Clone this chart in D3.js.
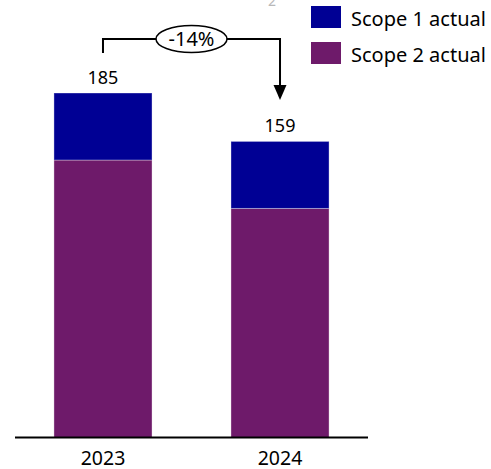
<!DOCTYPE html>
<html>
<head>
<meta charset="utf-8">
<script src="https://cdn.jsdelivr.net/npm/d3@7"></script>
<style>
  html, body { margin: 0; padding: 0; background: #fff; }
  svg { display: block; font-family: "Segoe UI", "Noto Sans", "Open Sans", sans-serif; }
</style>
</head>
<body>
<svg id="chart" width="491" height="469"></svg>
<script>
// Emissions by year (tCO2e)
const years = ["2023", "2024"];
const scope1 = [36, 36];
const scope2 = [149, 123];
const totals = [185, 159];
const seriesNames = ["Scope 1 actual", "Scope 2 actual"];
const seriesColors = ["#000094", "#6e1a6a"];
const changeLabel = "-14%";

const svg = d3.select("#chart");
const baseY = 437.5;

const x = d3.scaleBand()
  .domain(years)
  .range([15, 368])
  .paddingInner(0.446)
  .paddingOuter(0.22);

const y = d3.scaleLinear()
  .domain([0, 185])
  .range([baseY, 93]);

// Stack scope 2 at the bottom, scope 1 on top
const rows = years.map((yr, i) => ({ year: yr, s2: scope2[i], s1: scope1[i] }));
const stack = d3.stack().keys(["s2", "s1"])(rows);
const colorByKey = { s1: seriesColors[0], s2: seriesColors[1] };

svg.append("g").selectAll("g")
  .data(stack)
  .join("g")
  .attr("fill", d => colorByKey[d.key])
  .selectAll("rect")
  .data(d => d)
  .join("rect")
  .attr("x", d => x(d.data.year))
  .attr("width", x.bandwidth())
  .attr("y", d => y(d[1]))
  .attr("height", d => y(d[0]) - y(d[1]))
  .attr("stroke", "#fff")
  .attr("stroke-opacity", 0.35)
  .attr("stroke-width", 1);

// Total labels
svg.append("g").selectAll("text")
  .data(years)
  .join("text")
  .attr("x", d => x(d) + x.bandwidth() / 2)
  .attr("y", (d, i) => y(totals[i]) - 9.5)
  .attr("text-anchor", "middle")
  .attr("font-size", 18)
  .attr("fill", "#000")
  .text((d, i) => totals[i]);

// Baseline axis
const axis = d3.axisBottom(x).tickSize(0).tickPadding(14);
const gAxis = svg.append("g")
  .attr("transform", `translate(0,${baseY})`)
  .call(axis);
gAxis.select(".domain").attr("stroke", "#000").attr("stroke-width", 2)
  .attr("d", "M15,0H368");
gAxis.selectAll("text")
  .attr("font-size", 19.5)
  .attr("font-family", "'Segoe UI', 'Noto Sans', 'Open Sans', sans-serif")
  .attr("fill", "#000");

// Year-over-year change bracket
const cx0 = x(years[0]) + x.bandwidth() / 2;
const cx1 = x(years[1]) + x.bandwidth() / 2;
const bracketY = 39;
const tipY = 100;
svg.append("path")
  .attr("d", `M${cx0},${y(totals[0]) - 40}V${bracketY}H${cx1}V${tipY - 14}`)
  .attr("fill", "none")
  .attr("stroke", "#000")
  .attr("stroke-width", 2);
svg.append("path")
  .attr("d", `M${cx1 - 6.5},${tipY - 15}L${cx1 + 6.5},${tipY - 15}L${cx1},${tipY}Z`)
  .attr("fill", "#000");

const ellCx = 191.5;
svg.append("ellipse")
  .attr("cx", ellCx)
  .attr("cy", bracketY)
  .attr("rx", 35.5)
  .attr("ry", 13.5)
  .attr("fill", "#fff")
  .attr("stroke", "#000")
  .attr("stroke-width", 1.5);
svg.append("text")
  .attr("x", ellCx)
  .attr("y", bracketY + 7)
  .attr("text-anchor", "middle")
  .attr("font-size", 20)
  .attr("fill", "#000")
  .text(changeLabel);

// Clipped subscript peeking in from above
svg.append("text")
  .attr("x", 272)
  .attr("y", 6)
  .attr("text-anchor", "middle")
  .attr("font-size", 14)
  .attr("fill", "#b8b8b8")
  .text("2");

// Legend
const legend = svg.append("g")
  .selectAll("g")
  .data(seriesNames)
  .join("g")
  .attr("transform", (d, i) => `translate(311,${6 + i * 36})`);
legend.append("rect")
  .attr("width", 30)
  .attr("height", 22)
  .attr("fill", (d, i) => seriesColors[i]);
legend.append("text")
  .attr("x", 40)
  .attr("y", 19.5)
  .attr("font-size", 20)
  .attr("fill", "#000")
  .text(d => d);
</script>
</body>
</html>
